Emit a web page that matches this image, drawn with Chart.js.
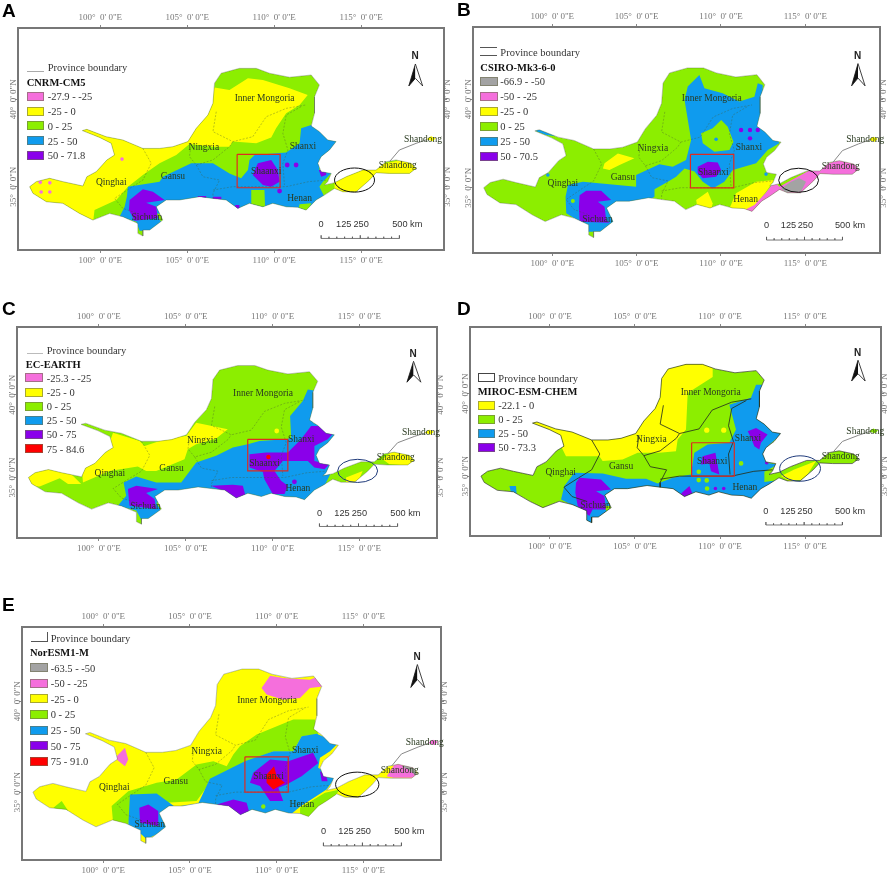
<!DOCTYPE html>
<html lang="en">
<head>
<meta charset="UTF-8" />
<title>Yellow River basin maps</title>
<script src="https://cdn.jsdelivr.net/npm/chart.js"></script>
<style>
  html, body { margin: 0; background: #fff; }
  body { width: 892px; height: 875px; position: relative; overflow: hidden; }
  canvas { position: absolute; filter: blur(0.4px); }
  .txt { position: absolute; font-family: "Liberation Serif", serif; color: #333; white-space: nowrap; transform: translateY(-50%); font-size: 10.5px; filter: blur(0.3px); }
  .title { font-weight: bold; color: #111; }
  .letter { font-family: "Liberation Sans", sans-serif; font-weight: bold; font-size: 19px; color: #000; filter: none; }
  .swatch { position: absolute; box-sizing: border-box; height: 9px; border: 1px solid rgba(110,110,80,.6); }
  .key { position: absolute; box-sizing: border-box; border: 0 solid #666; }
</style>
</head>
<body>
<script>
// tick values, degrees
const lonTicks = [100, 105, 110, 115];
const latTicks = [35, 40];

// basin edge, lon/lat
const basinOutline = [[95.94,35.0],[96.32,35.29],[97.09,35.48],[97.85,35.29],[99.0,35.04],[99.23,35.57],[99.77,35.86],[100.38,36.53],[100.82,36.81],[100.63,37.48],[99.96,37.82],[98.97,38.21],[99.23,38.28],[100.34,37.86],[101.3,37.67],[102.45,37.19],[103.41,37.19],[104.18,37.29],[105.04,37.58],[105.52,38.34],[106.19,39.1],[106.48,39.77],[106.57,40.92],[106.95,41.49],[108.0,41.77],[108.97,41.77],[109.73,41.49],[110.88,41.26],[112.13,41.39],[112.6,40.82],[112.32,40.15],[112.32,39.2],[112.13,38.47],[112.6,38.15],[113.08,37.67],[113.56,37.58],[113.18,37.1],[112.7,36.72],[112.51,36.34],[112.7,35.86],[113.28,35.76],[113.08,35.29],[112.89,35.1],[113.47,35.23],[114.14,35.57],[115.1,35.95],[115.86,35.95],[116.44,36.43],[117.01,36.53],[117.87,36.34],[118.16,36.05],[117.78,35.76],[116.63,35.76],[115.86,35.8],[115.48,35.38],[114.71,34.71],[113.95,34.71],[113.47,34.9],[112.89,34.52],[112.41,34.24],[111.84,33.66],[111.36,33.82],[110.69,33.85],[109.92,34.05],[109.35,33.85],[108.58,34.05],[107.91,33.76],[107.24,34.24],[106.48,34.33],[105.71,34.43],[104.56,34.24],[103.79,34.24],[103.22,33.85],[103.6,33.09],[102.84,32.52],[102.45,32.52],[102.45,32.18],[102.16,32.33],[102.16,32.9],[101.3,33.28],[100.54,33.47],[99.58,33.09],[98.81,33.47],[97.85,34.05],[96.9,34.14],[96.13,34.62]];
const basinTip = [[118.74,37.71],[119.02,37.9],[119.31,37.77],[119.12,37.58]];
const tipLine = [[116.63,36.43],[117.2,37.1],[118.16,37.48],[118.8,37.7]];

// province lines
const lineNorth = [[106.67,39.29],[106.48,38.15],[107.62,37.58],[108.77,37.86],[109.54,39.0],[110.69,39.48],[111.84,39.68]];
const lineRiver = [[111.55,39.58],[110.69,39.1],[110.5,38.05],[110.79,37.1],[110.5,36.34],[110.59,35.1]];
const lineNingxia = [[105.23,37.48],[105.13,36.72],[105.52,36.24],[106.48,36.53],[107.43,37.29],[107.62,37.58]];
const lineGansu = [[105.52,36.24],[105.9,35.57],[106.86,35.38],[106.48,34.62],[106.48,34.33]];
const lineQinghai = [[102.45,37.19],[102.93,36.34],[102.45,35.38],[101.69,34.9],[100.82,34.33],[101.3,33.76],[102.16,33.47]];
const lineHenan = [[106.48,34.81],[107.62,35.0],[110.69,35.0],[111.99,35.29],[113.08,35.38]];

const provinceNames = ['Inner Mongoria','Ningxia','Shanxi','Shaanxi','Gansu','Qinghai','Sichuan','Henan','Shandong','Shandong'];
const provinceLon = [109.45,105.96,111.65,109.54,104.18,100.63,102.68,111.46,118.55,117.1];
const provinceLat = [40.06,37.23,37.29,35.86,35.57,35.23,33.22,34.33,37.71,36.2];

const scaleTicksLon = [112.7,113.15,113.6,114.05,114.5,114.95,115.4,115.85,116.3,116.75,117.2];
const scaleLabels = ['0','125','250','500 km'];
const scaleLabelLon = [112.7,114.0,115.0,117.65];
const arrowDark = [[118.12,42.02],[117.74,40.76],[118.12,41.2]];
const arrowLight = [[118.12,42.02],[118.54,40.76],[118.12,41.2]];

// A CNRM-CM5
const aLegend = ['-27.9 - -25','-25 - 0','0 - 25','25 - 50','50 - 71.8'];
const aYellow = [[106.48,40.69],[107.43,40.53],[108.49,41.2],[109.35,41.11],[110.88,40.63],[111.93,40.25],[111.46,39.68],[110.69,39.2],[110.11,38.34],[109.83,37.82],[108.97,37.48],[107.62,37.58],[107.43,37.29],[106.48,37.29],[105.13,37.44],[104.37,36.81],[103.41,36.34],[102.45,35.67],[101.59,35.0],[100.92,34.24],[99.67,33.66],[99.58,32.9],[95.56,32.9],[95.56,38.44],[104.56,38.44],[105.52,39.96],[106.09,40.69]];
const aEast = [[113.47,35.38],[115.86,36.24],[118.35,36.72],[118.35,35.48],[115.67,35.48],[114.71,34.43],[113.47,34.43]];
const aBlue = [[101.59,35.0],[103.41,35.29],[103.6,35.57],[105.23,36.34],[106.48,36.34],[107.43,35.76],[108.1,35.48],[108.49,35.95],[108.58,36.53],[108.87,36.81],[110.69,36.95],[111.46,37.48],[111.55,38.34],[112.13,38.53],[113.75,37.77],[113.37,37.1],[112.6,36.53],[112.6,35.92],[113.37,35.86],[112.8,35.29],[112.6,35.0],[112.89,34.43],[112.32,34.05],[111.46,33.47],[107.62,33.28],[103.22,33.47],[103.79,32.48],[102.26,32.48],[102.07,33.0],[101.11,33.28],[101.4,33.85],[101.53,34.43]];
const aGreen1 = [[108.68,34.81],[109.44,34.81],[109.48,33.76],[108.68,33.76]];
const aGreen2 = [[111.46,34.0],[112.13,34.05],[111.84,33.47],[111.36,33.57]];
const aPurple1 = [[109.06,36.34],[109.83,36.53],[110.21,35.95],[110.31,35.29],[109.83,35.0],[109.35,35.1],[108.77,35.67]];
const aPurple2 = [[101.69,34.24],[102.45,34.85],[103.03,34.71],[103.7,34.24],[102.64,34.08],[103.22,33.85],[103.31,33.19],[101.97,33.05],[101.65,33.66]];
const aPurple3 = [[112.57,35.95],[112.99,35.95],[112.99,35.67],[112.7,35.57]];
const aPurple4 = [[105.61,34.47],[106.09,34.47],[106.09,34.28],[105.61,34.28]];
const aPurple5 = [[106.48,34.43],[106.96,34.43],[106.96,34.28],[106.48,34.28]];
const aPurple6 = [[107.76,33.95],[108.0,33.95],[108.0,33.7],[107.76,33.7]];
const aPurpleDots = [[110.75,36.24],[111.26,36.24],[110.31,34.75]];
const aPinkDots = [[101.25,36.58],[96.55,35.25],[97.1,35.22],[96.6,34.7],[97.1,34.7]];
const aBox = [[107.87,36.85],[110.34,36.85],[110.34,34.94],[107.87,34.94],[107.87,36.85]];

// B CSIRO-Mk3-6-0
const bLegend = ['-66.9 - -50','-50 - -25','-25 - 0','0 - 25','25 - 50','50 - 70.5'];
const bBlue = [[107.84,39.96],[108.03,40.72],[108.72,41.38],[109.02,40.62],[110.1,40.34],[111.09,39.87],[111.98,40.15],[112.18,40.91],[112.47,40.81],[112.47,38.45],[113.16,38.17],[113.46,37.51],[112.77,37.13],[112.08,36.38],[110.7,36.0],[110.2,35.34],[109.51,34.96],[108.92,35.34],[108.43,35.91],[107.84,36.09],[107.34,35.62],[106.85,35.34],[106.06,34.91],[106.06,34.49],[104.97,33.92],[103.59,32.51],[102.01,32.51],[101.82,32.98],[100.83,33.55],[100.79,34.49],[100.93,35.15],[101.82,35.34],[104.97,35.06],[104.97,35.72],[106.35,36.32],[107.14,36.19],[107.93,36.57],[108.23,37.7]];
const bBlueWest = [[98.86,38.26],[99.45,38.26],[100.34,37.89],[99.64,37.98]];
const bGreen = [[108.82,38.08],[109.51,38.36],[110.01,38.83],[110.4,38.45],[110.74,37.6],[110.5,37.13],[109.61,37.04],[108.92,37.51]];
const bYellow1 = [[103.1,36.38],[103.89,36.94],[104.87,36.66],[103.99,36.28],[103.39,36.0],[103.0,36.09]];
const bYellow2 = [[108.53,34.3],[109.22,34.77],[109.51,34.11],[109.41,33.74],[108.62,33.74]];
const bYellow3 = [[110.89,34.68],[112.08,35.34],[113.16,35.43],[112.67,34.77],[112.28,34.3],[111.88,33.83],[111.29,33.74],[110.5,33.83]];
const bPink = [[112.63,34.68],[113.16,35.34],[113.46,35.06],[115.63,36.19],[118.39,36.94],[118.39,35.62],[115.83,35.62],[114.84,34.49],[113.46,34.49],[112.08,33.55],[111.39,33.74],[111.98,34.02]];
const bGray = [[113.56,34.96],[114.15,35.34],[114.64,35.53],[115.04,35.34],[114.74,34.77],[113.85,34.72]];
const bPurple1 = [[108.62,36.19],[109.22,36.47],[109.81,36.43],[110.01,36.0],[109.71,35.62],[108.92,35.53],[108.62,35.85]];
const bPurple2 = [[101.62,34.58],[102.01,34.83],[102.9,34.83],[103.49,34.3],[102.7,34.21],[103.1,33.92],[103.2,33.17],[103.39,33.02],[101.62,33.08],[101.58,33.92]];
const bPurpleDots = [[111.19,38.26],[111.72,37.79],[111.72,38.26],[112.18,38.26]];
const bBlueDots = [[109.71,37.74],[99.74,35.72],[112.67,35.77]];
const bGreenDots = [[101.22,34.25]];
const bBox = [[108.19,36.89],[110.76,36.89],[110.76,34.99],[108.19,34.99],[108.19,36.89]];

// C EC-EARTH
const cLegend = ['-25.3 - -25','-25 - 0','0 - 25','25 - 50','50 - 75','75 - 84.6'];
const cYellow1 = [[100.81,37.71],[102.34,37.21],[102.63,36.91],[104.07,37.41],[105.03,37.51],[105.6,38.31],[107.42,37.91],[106.75,37.35],[105.6,37.01],[105.12,36.71],[104.93,36.1],[103.3,35.4],[102.72,35.4],[102.24,35.66],[100.61,35.4],[99.08,34.7],[98.98,36.0],[100.42,36.51]];
const cYellow2 = [[95.63,35.5],[97.16,35.5],[98.41,35.2],[98.98,34.6],[98.22,34.6],[97.74,34.96],[96.59,34.46],[95.63,34.5]];
const cYellow3 = [[116.34,36.1],[116.92,36.61],[118.07,36.71],[118.26,35.7],[116.73,35.8]];
const cYellow4 = [[114.23,35.0],[115.19,35.4],[114.9,34.7],[114.23,34.7]];
const cBlue = [[101.42,34.7],[102.15,35.06],[103.3,34.7],[104.74,34.7],[105.6,35.9],[106.75,36.31],[107.71,36.81],[108.57,37.01],[109.25,37.21],[110.78,37.31],[111.07,37.41],[111.01,38.71],[111.74,39.62],[112.03,40.32],[112.66,40.22],[112.41,39.62],[112.32,38.31],[113.66,37.71],[113.47,35.5],[113.18,34.9],[112.7,33.9],[111.55,33.49],[106.56,33.29],[103.3,33.49],[103.87,32.45],[102.44,32.45],[102.15,33.0],[101.09,33.29],[101.57,33.9]];
const cPurple1 = [[108.67,36.41],[109.63,36.51],[110.88,36.51],[111.64,37.31],[112.22,38.11],[113.18,38.11],[113.52,37.71],[113.18,37.31],[112.41,36.91],[112.41,36.0],[113.27,35.8],[112.99,35.5],[112.41,35.6],[112.03,36.0],[110.59,36.0],[110.11,35.4],[110.49,34.8],[110.88,34.5],[110.69,34.0],[110.01,34.0],[109.53,34.9],[109.44,35.34],[108.67,35.6]];
const cPurple2 = [[106.46,34.5],[107.71,34.56],[108.29,34.5],[108.44,33.9],[107.9,33.7],[107.14,34.2]];
const cPurple3 = [[101.67,34.3],[102.15,34.5],[103.4,34.3],[102.72,34.06],[103.2,33.7],[103.3,33.1],[101.76,33.29]];
const cPurpleDots = [[111.26,34.74]];
const cYellowDots = [[110.24,37.81]];
const cRedDots = [[109.76,36.24]];
const cBox = [[108.57,37.31],[110.88,37.31],[110.88,35.4],[108.57,35.4],[108.57,37.31]];

// D MIROC-ESM-CHEM
const dLegend = ['-22.1 - 0','0 - 25','25 - 50','50 - 73.3'];
const dYellow1 = [[109.57,41.75],[109.57,41.01],[108.1,40.04],[108.0,37.82],[107.51,37.22],[107.41,36.51],[106.43,36.41],[105.16,36.41],[104.27,36.01],[103.1,35.91],[102.9,36.21],[100.94,36.21],[100.65,36.81],[98.59,36.81],[98.59,38.83],[104.86,38.83],[105.65,40.24],[106.24,42.06],[109.37,42.26]];
const dYellow2 = [[113.59,35.0],[114.37,35.4],[115.65,35.91],[114.96,34.8],[114.08,34.7]];
const dBlue1 = [[100.65,33.59],[100.84,34.4],[101.43,35.2],[103.1,35.16],[104.47,34.84],[105.65,34.84],[106.33,34.56],[107.22,34.9],[108.29,35.1],[108.49,36.41],[109.27,36.92],[110.55,37.02],[110.94,37.82],[110.55,39.33],[111.82,39.74],[112.12,40.54],[112.8,40.54],[112.51,39.44],[112.51,38.43],[113.69,37.62],[112.8,36.81],[112.71,35.81],[113.39,35.71],[112.61,35.26],[112.61,34.64],[113.49,34.76],[112.31,33.39],[107.61,33.19],[103.1,33.19],[103.69,32.38],[101.92,31.98],[101.63,33.08]];
const dBlue2 = [[97.61,34.4],[98.0,34.4],[98.04,33.89],[97.71,33.99]];
const dPurple1 = [[108.98,36.21],[109.73,36.41],[109.96,35.1],[109.47,35.3],[109.37,35.77],[108.88,35.71]];
const dPurple2 = [[111.63,37.72],[112.12,37.92],[112.8,37.52],[112.41,37.02],[112.31,36.61],[112.02,36.81],[111.82,37.32]];
const dPurple3 = [[101.53,34.6],[101.73,34.9],[103.0,34.8],[103.59,34.19],[102.71,34.09],[103.2,33.79],[103.29,32.98],[102.51,32.98],[102.31,32.58],[101.63,33.19],[101.49,33.99]];
const dPurple4 = [[107.71,33.95],[108.2,34.4],[108.43,33.79],[107.9,33.69]];
const dPurpleDots = [[112.75,35.81],[110.22,34.25],[109.73,34.25]];
const dYellowDots = [[109.22,37.78],[110.22,37.78]];
const dGreenDots = [[111.24,35.77],[108.75,35.26],[108.75,34.76],[109.22,34.74],[109.24,34.25]];
const dBox = [[108.33,37.02],[110.84,37.02],[110.84,35.0],[108.33,35.0],[108.33,37.02]];

// E NorESM1-M
const eLegend = ['-63.5 - -50','-50 - -25','-25 - 0','0 - 25','25 - 50','50 - 75','75 - 91.0'];
const eGreen1 = [[107.5,37.07],[107.88,37.53],[108.85,38.17],[110.96,38.99],[112.21,38.99],[112.4,38.17],[111.44,38.08],[110.96,37.25],[109.81,37.25],[108.17,36.61],[106.35,35.79],[105.38,34.51],[103.65,34.41],[101.63,34.78],[101.44,33.13],[100.58,33.13],[100.48,34.23],[101.44,35.05],[103.08,35.51],[104.23,35.7],[105.38,36.52],[106.35,36.7],[107.12,36.43]];
const eGreen2 = [[97.12,34.14],[97.6,34.51],[97.98,33.96],[97.5,33.96]];
const eGreen3 = [[111.35,34.14],[112.79,34.96],[113.65,35.15],[112.31,33.5],[111.35,33.59]];
const eBlue = [[101.54,34.87],[103.08,34.93],[104.13,34.19],[105.48,34.38],[106.15,35.73],[108.17,36.7],[109.81,37.25],[110.96,37.25],[111.44,38.08],[112.31,38.21],[113.56,37.71],[113.08,37.25],[112.5,36.89],[112.4,36.34],[113.37,35.79],[112.88,35.15],[111.35,34.19],[110.58,33.59],[107.5,33.31],[103.27,33.86],[103.65,32.95],[102.5,32.4],[102.21,32.67],[101.44,33.13]];
const ePurple1 = [[108.65,36.06],[109.62,36.79],[110.67,36.7],[112.1,37.16],[112.4,36.6],[111.44,35.88],[110.58,35.42],[110.1,35.24],[110.38,34.51],[109.62,34.51],[109.04,35.33],[108.46,35.51]];
const ePurple2 = [[106.54,34.32],[107.5,34.6],[108.27,34.41],[108.46,33.77],[107.88,33.68],[107.31,34.14]];
const ePurple3 = [[102.08,34.14],[102.6,34.32],[103.17,33.96],[103.17,33.13],[102.12,33.32]];
const ePurple4 = [[112.5,36.15],[112.85,35.97],[112.94,35.6],[112.6,35.6]];
const eRed = [[109.42,35.97],[109.85,36.43],[110.0,35.88],[110.48,35.51],[109.81,35.15],[109.42,35.51]];
const ePink1 = [[109.13,40.73],[109.62,41.41],[110.38,41.28],[111.92,41.19],[112.5,41.41],[112.79,40.82],[111.92,40.73],[111.35,40.18],[110.38,40.09],[109.42,40.37]];
const ePink2 = [[100.77,36.98],[101.25,37.44],[101.44,36.79],[101.25,36.43],[100.77,36.79]];
const ePink3 = [[116.35,35.88],[116.92,36.7],[117.88,36.43],[118.17,35.79],[116.73,35.79]];
const eGray = [[117.21,36.43],[117.88,36.52],[118.17,35.79],[117.6,36.25]];
const eGreenDots = [[109.23,34.21]];
const eBox = [[108.17,36.94],[110.67,36.94],[110.67,35.0],[108.17,35.0],[108.17,36.94]];

const PINK = '#f56fdc', YELLOW = '#ffff00', GREEN = '#8cee00', BLUE = '#0f9bee', PURPLE = '#8a00ea', RED = '#ff0000', GRAY = '#a3a3a3';

const panels = [
  { letter: 'A', lx: 2, ly: 11, model: 'CNRM-CM5', base: GREEN,
    frame: [18.3, 445, 28, 250], lonPx: [100.7, 362], latPx: [99.3, 186.7],
    colors: [PINK, YELLOW, GREEN, BLUE, PURPLE], legend: aLegend,
    keyText: [47.7, 67], titlePos: [26.7, 82], swatchX: 26.7, swatchW: 17.5, swatchY: [96.3, 111, 125.6, 140.6, 155.3],
    key: { left: 26.7, top: 70.7, width: 17.5, height: 0, borderTopWidth: 1, borderColor: '#aaa' },
    layers: [[YELLOW, aYellow], [YELLOW, aEast], [BLUE, aBlue], [GREEN, aGreen1], [GREEN, aGreen2], [PURPLE, aPurple1], [PURPLE, aPurple2], [PURPLE, aPurple3], [PURPLE, aPurple4], [PURPLE, aPurple5], [PURPLE, aPurple6]],
    dots: [[PURPLE, aPurpleDots, 2.4], [PINK, aPinkDots, 1.8]],
    tip: YELLOW, box: aBox, ellipse: [114.62, 35.38, 1.15, 0.69], ellipseColor: '#111', edge: 'rgba(70,90,50,.45)' },
  { letter: 'B', lx: 457, ly: 10, model: 'CSIRO-Mk3-6-0', base: GREEN,
    frame: [472.7, 880, 27, 253], lonPx: [552, 805.3], latPx: [99.3, 187.7],
    colors: [GRAY, PINK, YELLOW, GREEN, BLUE, PURPLE], legend: bLegend,
    keyText: [500.3, 51.7], titlePos: [480.3, 66.7], swatchX: 480.3, swatchW: 17.5, swatchY: [81, 96.3, 111, 126.3, 141.3, 156.3],
    key: { left: 480.3, top: 46.7, width: 17, height: 9, borderTopWidth: 1, borderBottomWidth: 1, borderColor: '#555' },
    layers: [[BLUE, bBlue], [BLUE, bBlueWest], [GREEN, bGreen], [YELLOW, bYellow1], [YELLOW, bYellow2], [YELLOW, bYellow3], [PINK, bPink], [GRAY, bGray], [PURPLE, bPurple1], [PURPLE, bPurple2]],
    dots: [[PURPLE, bPurpleDots, 2.2], [BLUE, bBlueDots, 1.8], [GREEN, bGreenDots, 2]],
    tip: YELLOW, box: bBox, ellipse: [114.6, 35.42, 1.18, 0.68], ellipseColor: '#111', edge: 'rgba(70,90,50,.45)' },
  { letter: 'C', lx: 2, ly: 309, model: 'EC-EARTH', base: GREEN,
    frame: [17.3, 437.7, 327.3, 539], lonPx: [99.3, 360], latPx: [395.3, 478.3],
    colors: [PINK, YELLOW, GREEN, BLUE, PURPLE, RED], legend: cLegend,
    keyText: [46.7, 350], titlePos: [25.7, 364], swatchX: 25, swatchW: 17.7, swatchY: [377.7, 392, 406, 420.3, 434.3, 448.7],
    key: { left: 26.7, top: 352.7, width: 16, height: 0, borderTopWidth: 1, borderColor: '#bbb' },
    layers: [[YELLOW, cYellow1], [YELLOW, cYellow2], [YELLOW, cYellow3], [YELLOW, cYellow4], [BLUE, cBlue], [PURPLE, cPurple1], [PURPLE, cPurple2], [PURPLE, cPurple3]],
    dots: [[PURPLE, cPurpleDots, 2.4], [YELLOW, cYellowDots, 2.4], [RED, cRedDots, 2.2]],
    tip: YELLOW, box: cBox, ellipse: [114.9, 35.4, 1.15, 0.7], ellipseColor: '#1f3a7a', edge: 'rgba(70,90,50,.45)' },
  { letter: 'D', lx: 457, ly: 309, model: 'MIROC-ESM-CHEM', base: GREEN,
    frame: [470, 881, 327.3, 536.7], lonPx: [550, 805], latPx: [394, 476.7],
    colors: [YELLOW, GREEN, BLUE, PURPLE], legend: dLegend,
    keyText: [498.3, 377.7], titlePos: [477.7, 391.3], swatchX: 478.3, swatchW: 17, swatchY: [405, 419.3, 433.3, 447.3],
    key: { left: 478.3, top: 373.3, width: 17, height: 8.5, borderWidth: 1, borderColor: '#444' },
    layers: [[YELLOW, dYellow1], [YELLOW, dYellow2], [BLUE, dBlue1], [BLUE, dBlue2], [PURPLE, dPurple1], [PURPLE, dPurple2], [PURPLE, dPurple3], [PURPLE, dPurple4]],
    dots: [[PURPLE, dPurpleDots, 1.8], [YELLOW, dYellowDots, 2.6], [GREEN, dGreenDots, 2.3]],
    tip: GREEN, box: dBox, ellipse: [114.71, 35.46, 1.2, 0.77], ellipseColor: '#1f3a7a', edge: 'rgba(40,50,30,.85)' },
  { letter: 'E', lx: 2, ly: 605, model: 'NorESM1-M', base: YELLOW,
    frame: [22, 441, 627.3, 860.7], lonPx: [103.3, 363.3], latPx: [701.7, 792.7],
    colors: [GRAY, PINK, YELLOW, GREEN, BLUE, PURPLE, RED], legend: eLegend,
    keyText: [50.7, 637.7], titlePos: [30, 652.3], swatchX: 30, swatchW: 17.7, swatchY: [667.7, 683, 698.7, 714.3, 730, 745.7, 761.3],
    key: { left: 30.7, top: 632, width: 17, height: 9.7, borderBottomWidth: 1, borderRightWidth: 1, borderColor: '#555' },
    layers: [[GREEN, eGreen1], [GREEN, eGreen2], [GREEN, eGreen3], [BLUE, eBlue], [PURPLE, ePurple1], [PURPLE, ePurple2], [PURPLE, ePurple3], [PURPLE, ePurple4], [RED, eRed], [PINK, ePink1], [PINK, ePink2], [PINK, ePink3], [GRAY, eGray]],
    dots: [[GREEN, eGreenDots, 2.2]],
    tip: PINK, box: eBox, ellipse: [114.65, 35.42, 1.25, 0.68], ellipseColor: '#111', edge: 'rgba(70,90,50,.45)' }
];

const pts = list => list.map(([x, y]) => ({ x, y }));

function tracePoly(chart, list) {
  const { ctx, scales } = chart;
  list.forEach(([x, y], i) => {
    const px = scales.x.getPixelForValue(x), py = scales.y.getPixelForValue(y);
    if (i) ctx.lineTo(px, py); else ctx.moveTo(px, py);
  });
  ctx.closePath();
}

// fills the zones through the scales, cut to the basin edge
const basinClip = {
  id: 'basinClip',
  beforeDatasetDraw(chart, args) {
    const ds = chart.data.datasets[args.index];
    const { ctx } = chart;
    if (ds.inBasin) {
      ctx.save();
      ctx.beginPath();
      tracePoly(chart, basinOutline);
      tracePoly(chart, basinTip);
      ctx.clip();
    }
    if (ds.zone) {
      ctx.fillStyle = ds.zone;
      ctx.beginPath();
      tracePoly(chart, ds.poly);
      ctx.fill();
    }
  },
  afterDatasetDraw(chart, args) {
    if (chart.data.datasets[args.index].inBasin) chart.ctx.restore();
  }
};
Chart.register(basinClip);

// names, scale bar text and the ellipse
const mapNotes = {
  id: 'mapNotes',
  afterDatasetsDraw(chart, args, opts) {
    const { ctx, scales: { x, y } } = chart;
    ctx.save();
    ctx.textAlign = 'center';
    ctx.textBaseline = 'middle';
    ctx.font = '9.5px "Liberation Serif"';
    ctx.fillStyle = '#2a3a20';
    provinceNames.forEach((name, i) => ctx.fillText(name, x.getPixelForValue(provinceLon[i]), y.getPixelForValue(provinceLat[i])));
    ctx.font = '9.2px "Liberation Sans"';
    ctx.fillStyle = '#333';
    scaleLabels.forEach((t, i) => ctx.fillText(t, x.getPixelForValue(scaleLabelLon[i]), y.getPixelForValue(32.84)));
    ctx.font = 'bold 10px "Liberation Sans"';
    ctx.fillStyle = '#222';
    ctx.fillText('N', x.getPixelForValue(118.1), y.getPixelForValue(42.45));
    const [lon, lat, rx, ry] = opts.ellipse;
    ctx.strokeStyle = opts.color;
    ctx.lineWidth = 1;
    ctx.beginPath();
    ctx.ellipse(x.getPixelForValue(lon), y.getPixelForValue(lat),
      Math.abs(x.getPixelForValue(lon + rx) - x.getPixelForValue(lon)),
      Math.abs(y.getPixelForValue(lat + ry) - y.getPixelForValue(lat)), 0, 0, Math.PI * 2);
    ctx.stroke();
    ctx.restore();
  }
};

function polygon(color, list) {
  return { data: pts(list), showLine: true, fill: false, zone: color, poly: list, borderWidth: 0, pointRadius: 0, inBasin: true };
}
function path(color, width, list, dash) {
  return { data: pts(list), showLine: true, fill: false, borderColor: color, borderWidth: width, borderDash: dash || [], pointRadius: 0 };
}

function axisDefaults(position, axis, margin) {
  const horizontal = axis === 'x';
  return {
    type: 'linear', axis, position,
    border: { display: true, color: '#777', width: 2 },
    grid: { drawOnChartArea: false, tickLength: 3, tickColor: '#888' },
    afterFit(s) { if (horizontal) s.height = margin; else s.width = margin; },
    afterBuildTicks(s) { s.ticks = (horizontal ? lonTicks : latTicks).map(value => ({ value })); }
  };
}

function lonLabel(v) { return v + '°  0\' 0"E'; }
function latLabel(v) { return v + '°  0\' 0"N'; }

function drawPanel(p) {
  const margin = 19;
  const [left, right, top, bottom] = p.frame;
  const degX = (p.lonPx[1] - p.lonPx[0]) / (lonTicks[3] - lonTicks[0]);
  const degY = (p.latPx[1] - p.latPx[0]) / (latTicks[1] - latTicks[0]);
  const xMin = 100 + (left - p.lonPx[0]) / degX, xMax = 100 + (right - p.lonPx[0]) / degX;
  const yMax = 40 + (p.latPx[0] - top) / degY, yMin = 40 - (bottom - p.latPx[0]) / degY;

  const canvas = document.createElement('canvas');
  canvas.width = right - left + margin * 2;
  canvas.height = bottom - top + margin * 2;
  canvas.style.left = (left - margin) + 'px';
  canvas.style.top = (top - margin) + 'px';
  document.body.appendChild(canvas);

  // scale bar zigzag from its tick list
  const bar = [];
  scaleTicksLon.forEach((lon, i) => {
    bar.push([lon, 32.04], [lon, i % 5 ? 32.14 : 32.22], [lon, 32.04]);
  });

  const stack = [polygon(p.base, basinOutline), polygon(p.tip, basinTip)];
  p.layers.forEach(([c, list]) => stack.push(polygon(c, list)));
  p.dots.forEach(([c, list, r]) => stack.push({ data: pts(list), backgroundColor: c, borderWidth: 0, pointRadius: r, inBasin: true }));
  [lineNorth, lineRiver, lineNingxia, lineGansu, lineQinghai, lineHenan].forEach(l => stack.push(path(p.edge, p.letter === 'D' ? 1 : 0.8, l, p.letter === 'D' ? [] : [2, 1.5])));
  stack.push(path(p.edge, 0.8, basinOutline.concat([basinOutline[0]])));
  stack.push(path('#888', 1, tipLine));
  stack.push(path('#e02a20', 1.2, p.box));
  stack.push(path('#555', 0.8, bar));
  stack.push(Object.assign(polygon('#111', arrowDark), { inBasin: false, borderColor: '#111', borderWidth: 0.8 }));
  stack.push(Object.assign(polygon('#fff', arrowLight), { inBasin: false, borderColor: '#111', borderWidth: 0.8 }));

  const tickFont = { family: 'Liberation Serif', size: 9 };
  const xBottom = axisDefaults('bottom', 'x', margin);
  const xTop = axisDefaults('top', 'x', margin);
  const yLeft = axisDefaults('left', 'y', margin);
  const yRight = axisDefaults('right', 'y', margin);
  [xBottom, xTop].forEach(a => {
    a.min = xMin; a.max = xMax;
    a.ticks = { color: '#777', font: tickFont, padding: 2, maxRotation: 0, callback: lonLabel };
  });
  [yLeft, yRight].forEach(a => {
    a.min = yMin; a.max = yMax;
  });
  yLeft.ticks = { color: '#777', font: tickFont, minRotation: 90, crossAlign: 'center', padding: -19, callback: latLabel };
  yRight.ticks = { color: '#777', font: tickFont, minRotation: 90, crossAlign: 'center', padding: -19, callback: latLabel };

  new Chart(canvas.getContext('2d'), {
    type: 'scatter',
    data: { datasets: stack.reverse() },
    options: {
      responsive: false,
      animation: false,
      layout: { padding: 0 },
      scales: { x: xBottom, xTop, y: yLeft, yRight },
      plugins: {
        legend: { display: false },
        tooltip: { enabled: false },
        mapNotes: { ellipse: p.ellipse, color: p.ellipseColor }
      }
    },
    plugins: [mapNotes]
  });

  // legend block
  const addText = (txt, x, y, cls) => {
    const d = document.createElement('div');
    d.className = 'txt ' + (cls || '');
    d.textContent = txt;
    d.style.left = x + 'px';
    d.style.top = y + 'px';
    document.body.appendChild(d);
  };
  addText(p.letter, p.lx, p.ly, 'letter');
  addText('Province boundary', p.keyText[0], p.keyText[1]);
  addText(p.model, p.titlePos[0], p.titlePos[1], 'title');
  const key = document.createElement('div');
  key.className = 'key';
  Object.entries(p.key).forEach(([k, v]) => { key.style[k] = typeof v === 'number' ? v + 'px' : v; });
  document.body.appendChild(key);
  p.legend.forEach((label, i) => {
    const s = document.createElement('div');
    s.className = 'swatch';
    s.style.left = p.swatchX + 'px';
    s.style.top = (p.swatchY[i] - 4.5) + 'px';
    s.style.width = p.swatchW + 'px';
    s.style.background = p.colors[i];
    document.body.appendChild(s);
    addText(label, p.keyText[0], p.swatchY[i]);
  });
}

panels.forEach(drawPanel);
</script>
</body>
</html>
